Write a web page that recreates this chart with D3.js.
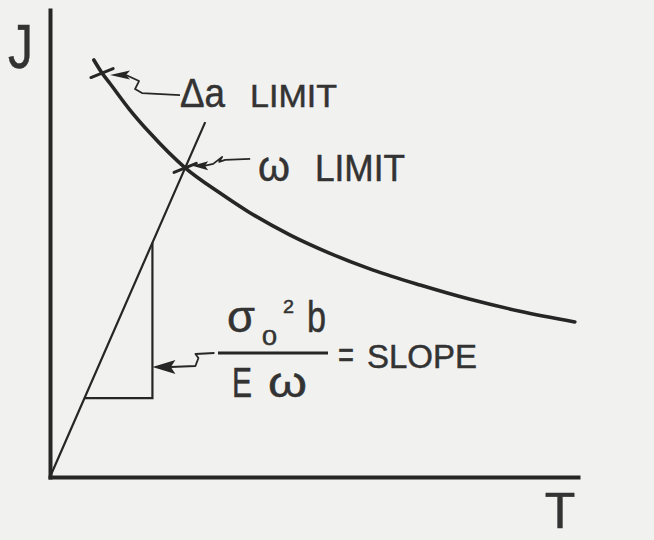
<!DOCTYPE html>
<html>
<head>
<meta charset="utf-8">
<script src="https://cdn.jsdelivr.net/npm/d3@7/dist/d3.min.js"></script>
<style>
  html, body { margin: 0; padding: 0; background: #f1f1ef; }
  svg { display: block; }
  text { font-family: "Liberation Sans", Arial, sans-serif; fill: #333333; stroke: #333333; stroke-width: 0.5px; }
</style>
</head>
<body>
<svg id="chart" width="654" height="540"></svg>
<script>
// Limit curve J(T): allowable J falls as tearing modulus T grows
const curveT = [8.3, 9.85, 11.4, 15.0, 18.9, 25.6, 32.2, 37.7, 45.5, 52.8, 61.2, 70.1, 79.4, 89.0, 99.4];
const curveJ = [89.3, 86.5, 84.2, 78.8, 73.7, 66.2, 60.8, 56.7, 51.8, 48.0, 44.3, 41.1, 38.1, 35.5, 33.2];

// Straight line from the origin with slope sigma0^2 b / (E omega)
const slopeT = [0, 25.6, 29.4];
const slopeJ = [0, 66.2, 76.0];

// Slope triangle under that line
const triT = [6.54, 19.4, 19.4];
const triJ = [16.9, 16.9, 50.2];

// Marked limit points on the curve
const limitNames = ["Δa LIMIT", "ω LIMIT"];
const limitT = [9.85, 25.6];
const limitJ = [86.5, 66.2];

const axisLabels = ["T", "J"];

const svg = d3.select("#chart");
const ink = "#262626";

const x = d3.scaleLinear().domain([0, 100]).range([50, 578]);
const y = d3.scaleLinear().domain([0, 100]).range([477, 10]);
const lineGen = d3.line().x(d => x(d[0])).y(d => y(d[1]));

// Axes: bare lines with no ticks
const gx = svg.append("g").attr("transform", `translate(0,${y(0)})`)
  .call(d3.axisBottom(x).ticks(0).tickSizeOuter(0));
const gy = svg.append("g").attr("transform", `translate(${x(0)},0)`)
  .call(d3.axisLeft(y).ticks(0).tickSizeOuter(0));
[gx, gy].forEach(g => g.select(".domain")
  .attr("stroke", ink).attr("stroke-width", 4).attr("stroke-linecap", "square"));

// Axis titles
svg.append("text").attr("x", 560).attr("y", 528).attr("text-anchor", "middle")
  .attr("font-size", 50).text(axisLabels[0]);
svg.append("text").attr("x", 8).attr("y", 68)
  .attr("font-size", 63).attr("textLength", 25).attr("lengthAdjust", "spacingAndGlyphs")
  .text(axisLabels[1]);

// Limit curve
const curvePts = curveT.map((t, i) => [t, curveJ[i]]);
svg.append("path")
  .attr("d", d3.line().x(d => x(d[0])).y(d => y(d[1])).curve(d3.curveMonotoneX)(curvePts))
  .attr("fill", "none").attr("stroke", ink).attr("stroke-width", 3.6).attr("stroke-linecap", "round");

// Slope line
const slopePts = slopeT.map((t, i) => [t, slopeJ[i]]);
svg.append("path")
  .attr("d", lineGen(slopePts))
  .attr("fill", "none").attr("stroke", ink).attr("stroke-width", 2.2);

// Slope triangle (horizontal and vertical legs)
const triPts = triT.map((t, i) => [t, triJ[i]]);
svg.append("path")
  .attr("d", lineGen(triPts))
  .attr("fill", "none").attr("stroke", ink).attr("stroke-width", 2.2);

// Cross ticks at the limit points
const tickAngle = -22 * Math.PI / 180, tickHalf = 12;
limitT.forEach((t, i) => {
  const cx = x(t), cy = y(limitJ[i]);
  svg.append("line")
    .attr("x1", cx - tickHalf * Math.cos(tickAngle)).attr("y1", cy - tickHalf * Math.sin(tickAngle))
    .attr("x2", cx + tickHalf * Math.cos(tickAngle)).attr("y2", cy + tickHalf * Math.sin(tickAngle))
    .attr("stroke", ink).attr("stroke-width", 3).attr("stroke-linecap", "round");
});

// Arrowheads + wavy leaders
function arrow(tipX, tipY, len, half) {
  svg.append("path")
    .attr("d", `M${tipX},${tipY} L${tipX + len},${tipY - half} L${tipX + len * 0.8},${tipY} L${tipX + len},${tipY + half} Z`)
    .attr("fill", ink);
}
function leader(d) {
  svg.append("path").attr("d", d).attr("fill", "none")
    .attr("stroke", ink).attr("stroke-width", 1.8).attr("stroke-linejoin", "round");
}

// Δa limit leader
{
  const tx = x(limitT[0]) + 8, ty = y(limitJ[0]) + 2;
  arrow(tx, ty, 20, 4.5);
  leader(`M${tx + 16},${ty} L${tx + 29},${ty + 6} L${tx + 25},${ty + 14} L${tx + 32},${ty + 18} L${tx + 70},${ty + 20}`);
}
// ω limit leader
{
  const tx = x(limitT[1]) + 7, ty = y(limitJ[1]) - 2;
  arrow(tx, ty, 16, 4.5);
  leader(`M${tx + 12},${ty} L${tx + 21},${ty - 2} L${tx + 30},${ty - 9} L${tx + 27},${ty - 4} L${tx + 33},${ty - 6} L${tx + 58},${ty - 7}`);
}
// Slope leader pointing at the triangle's vertical leg
{
  const tx = x(triT[1]), ty = 367;
  arrow(tx, ty, 23, 7);
  leader(`M${tx + 18},${ty} L${tx + 43},${ty - 1} L${tx + 46},${ty - 9} L${tx + 43},${ty - 13} L${tx + 62},${ty - 14}`);
}

// Labels
function label(str, px, py, size, len) {
  const t = svg.append("text").attr("x", px).attr("y", py).attr("font-size", size).text(str);
  if (len) t.attr("textLength", len).attr("lengthAdjust", "spacingAndGlyphs");
  return t;
}
const [dA, wL] = limitNames;
label(dA.slice(0, 2), 180, 107, 40, 45);
label(dA.slice(3), 250, 107, 32, 87);
label(wL.slice(0, 1), 258, 181, 42, 32);
label(wL.slice(2), 315, 181, 36, 90);

// Slope expression: sigma0^2 b over E omega
label("σ", 227, 332, 44, 28);
label("0", 262, 345, 22, 15);
label("2", 283, 313, 19, 11);
label("b", 307, 332, 44, 19);
svg.append("line").attr("x1", 218).attr("x2", 328).attr("y1", 353).attr("y2", 353)
  .attr("stroke", ink).attr("stroke-width", 3);
label("E", 232, 397, 42, 20);
label("ω", 268, 397, 42, 39);
label("=", 338, 367, 36, 16);
label("SLOPE", 367, 368, 33, 110);
</script>
</body>
</html>
